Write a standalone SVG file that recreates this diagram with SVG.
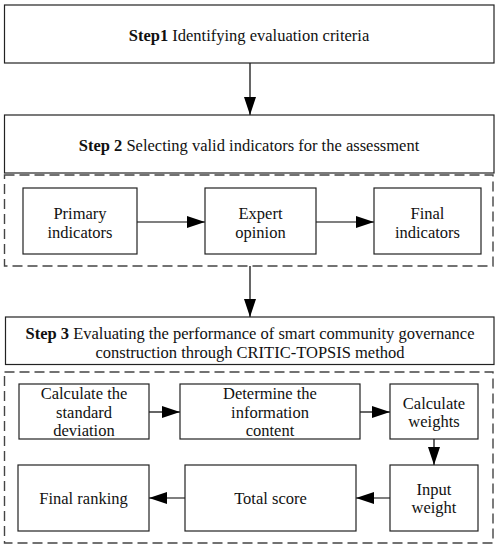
<svg xmlns="http://www.w3.org/2000/svg" width="499" height="550" viewBox="0 0 499 550">
<defs>
<marker id="ah" viewBox="0 0 18 12" refX="18" refY="6" markerWidth="18" markerHeight="12" markerUnits="userSpaceOnUse" orient="auto">
<path d="M0,0 L18,6 L0,12 Z" fill="#000"/>
</marker>
<style>
.box{fill:#fff;stroke:#222;stroke-width:1.2}
.dash{fill:none;stroke:#444;stroke-width:1.4;stroke-dasharray:10 5}
.t{font-family:"Liberation Serif",serif;font-size:16.5px;fill:#111;text-anchor:middle;dominant-baseline:central}
.b{font-weight:bold}
.c{stroke:#000;stroke-width:1.2;fill:none;marker-end:url(#ah)}
</style>
</defs>
<rect width="499" height="550" fill="#fff"/>
<g id="connectors">
<line class="c" x1="250" y1="63" x2="250" y2="115"/>
<line class="c" x1="137" y1="222" x2="205" y2="222"/>
<line class="c" x1="316" y1="222" x2="374" y2="222"/>
<line class="c" x1="250" y1="266" x2="250" y2="317"/>
<line class="c" x1="149" y1="412" x2="180" y2="412"/>
<line class="c" x1="360" y1="412" x2="390" y2="412"/>
<line class="c" x1="434" y1="439" x2="434" y2="465"/>
<line class="c" x1="390" y1="498" x2="356" y2="498"/>
<line class="c" x1="185" y1="498" x2="149" y2="498"/>
</g>
<g id="step1">
<rect class="box" x="4.5" y="5" width="489.5" height="58"/>
<text class="t" x="249" y="35"><tspan class="b">Step1</tspan> Identifying evaluation criteria</text>
</g>
<g id="step2">
<rect class="box" x="4.5" y="115" width="489.5" height="58"/>
<text class="t" x="249" y="145"><tspan class="b">Step 2</tspan> Selecting valid indicators for the assessment</text>
</g>
<g id="group2">
<rect class="dash" x="4.5" y="175" width="488.5" height="91"/>
</g>
<g id="primary">
<rect class="box" x="23" y="188" width="114" height="66"/>
<text class="t" x="80" y="213">Primary</text>
<text class="t" x="80" y="232">indicators</text>
</g>
<g id="expert">
<rect class="box" x="205" y="188" width="111" height="66"/>
<text class="t" x="260.5" y="213">Expert</text>
<text class="t" x="260.5" y="232">opinion</text>
</g>
<g id="final-ind">
<rect class="box" x="374" y="188" width="107" height="66"/>
<text class="t" x="427.5" y="213">Final</text>
<text class="t" x="427.5" y="232">indicators</text>
</g>
<g id="step3">
<rect class="box" x="5.5" y="317" width="488.5" height="47.5"/>
<text class="t" x="250" y="333"><tspan class="b">Step 3</tspan> Evaluating the performance of smart community governance</text>
<text class="t" x="250" y="352">construction through CRITIC-TOPSIS method</text>
</g>
<g id="group3">
<rect class="dash" x="4.5" y="372" width="488.5" height="171"/>
</g>
<g id="std">
<rect class="box" x="19" y="384" width="130" height="55"/>
<text class="t" x="84" y="393.5">Calculate the</text>
<text class="t" x="84" y="412">standard</text>
<text class="t" x="84" y="430.5">deviation</text>
</g>
<g id="info">
<rect class="box" x="180" y="384" width="180" height="55"/>
<text class="t" x="270" y="393.5">Determine the</text>
<text class="t" x="270" y="412">information</text>
<text class="t" x="270" y="430.5">content</text>
</g>
<g id="weights">
<rect class="box" x="390" y="384" width="88" height="55"/>
<text class="t" x="434" y="403">Calculate</text>
<text class="t" x="434" y="421">weights</text>
</g>
<g id="input">
<rect class="box" x="390" y="465" width="88" height="66"/>
<text class="t" x="434" y="489">Input</text>
<text class="t" x="434" y="507">weight</text>
</g>
<g id="total">
<rect class="box" x="185" y="465" width="171" height="66"/>
<text class="t" x="270.5" y="498">Total score</text>
</g>
<g id="ranking">
<rect class="box" x="18" y="465" width="131" height="66"/>
<text class="t" x="83.5" y="498">Final ranking</text>
</g>
</svg>
